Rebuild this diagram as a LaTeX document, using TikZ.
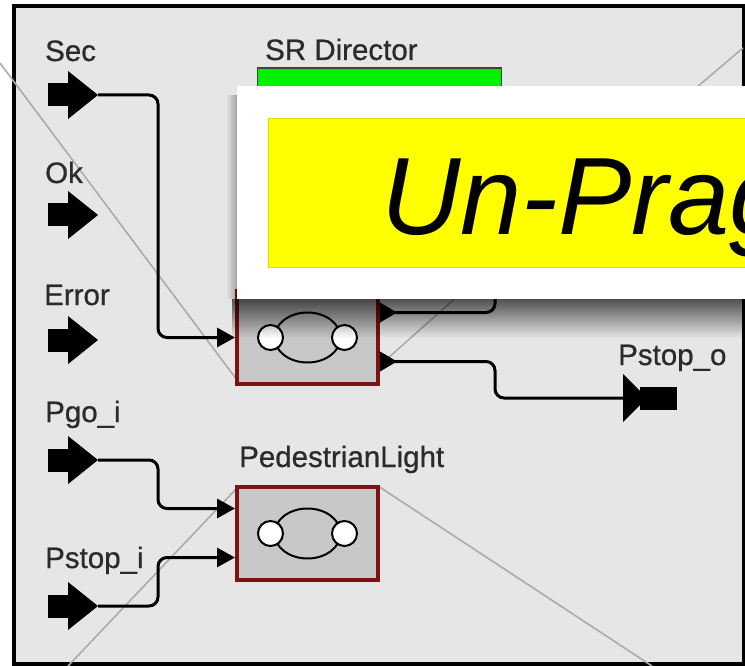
\documentclass[tikz,border=0pt]{standalone}
\usepackage{fontspec}
\setmainfont{Liberation Sans}
\usetikzlibrary{arrows.meta,fadings}

\definecolor{canvas}{HTML}{E6E6E6}
\definecolor{actorred}{HTML}{7E1212}
\definecolor{actorfill}{HTML}{C8C8C8}
\definecolor{labelgray}{HTML}{2B2B2B}
\definecolor{directorgreen}{HTML}{00F000}
\definecolor{xgray}{HTML}{ABABAB}
\definecolor{banneryellow}{HTML}{FFFF00}
\definecolor{bannerrim}{HTML}{E8D800}

\tikzset{
  wire/.style={line width=3pt, rounded corners=9pt},
  arrowed/.style={-{Triangle[length=18pt,width=19pt]}},
  actor/.style={draw=actorred, fill=actorfill, line width=4pt,
    minimum width=141pt, minimum height=93pt, inner sep=0pt},
  director/.style={draw=black!75, fill=directorgreen, line width=1.5pt,
    minimum width=244pt, minimum height=60pt, inner sep=0pt},
  portlabel/.style={anchor=base west, inner sep=0pt, text=labelgray,
    font=\fontsize{29.5}{30}\selectfont\addfontfeature{FakeBold=0.7}},
  xline/.style={xgray, line width=1.6pt},
  % input port: square tail followed by a triangular head ending at the origin
  inport/.pic={
    \fill[black] (-50,-11.5) rectangle (-28,11.5);
    \fill[black] (-30,-24) -- (0,0) -- (-30,24) -- cycle;
  },
  % output port: triangular head with its base at the origin, then a square tail
  outport/.pic={
    \fill[black] (0,-24) -- (24,0) -- (0,24) -- cycle;
    \fill[black] (17,-11.5) rectangle (54,11.5);
  },
  % the composite-actor glyph drawn inside each actor box
  actoricon/.pic={
    \draw[line width=2pt, fill=actorfill] (0,0) ellipse [x radius=33pt, y radius=25pt];
    \draw[line width=2pt, fill=white] (-37pt,0) circle [radius=12.5pt];
    \draw[line width=2pt, fill=white] (37pt,0) circle [radius=12.5pt];
  },
  outtip/.pic={
    \fill[black] (0,-10) -- (17,0) -- (0,10) -- cycle;
  },
}

\begin{document}
\begin{tikzpicture}[x=1pt,y=-1pt]
  \useasboundingbox (0,0) rectangle (745,666);
  \clip (0,0) rectangle (745,666);
  \fill[white] (0,0) rectangle (745,666);

  % model canvas
  \draw[line width=4pt, fill=canvas] (13.5,6.5) rectangle (743.5,664);

  % faint cross lines behind the model
  \draw[xline] (0,63) -- (237,380);
  \draw[xline] (743,48) -- (690,93);
  \draw[xline] (460,294) -- (378,367);
  \draw[xline] (237,488) -- (68,666);
  \draw[xline] (378,486) -- (652,666);

  % director
  \node[director] (dir) at (379.5,98) {};
  \node[portlabel] (dirlabel) at (265,60) {SR Director};

  % external input ports
  \coordinate (sec)   at (98,95);
  \coordinate (ok)    at (98,215);
  \coordinate (err)   at (98,340);
  \coordinate (pgo)   at (98,460);
  \coordinate (pstopi) at (98,606);
  \foreach \p in {sec,ok,err,pgo,pstopi} { \pic at (\p) {inport}; }

  \node[portlabel] (seclabel)   at (45,61)  {Sec};
  \node[portlabel] (oklabel)    at (45,183) {Ok};
  \node[portlabel] (errlabel)   at (44,305) {Error};
  \node[portlabel] (pgolabel)   at (45,422) {Pgo\_i};
  \node[portlabel] (pstopilabel) at (45,568) {Pstop\_i};

  % external output port
  \coordinate (pstopo) at (623,398);
  \pic at (pstopo) {outport};
  \node[portlabel] (pstopolabel) at (618,365) {Pstop\_o};

  % actors
  \node[actor] (ctl) at (307.5,337.5) {};
  \pic at (ctl.center) {actoricon};
  \node[actor] (ped) at (307.5,533.5) {};
  \pic at (ped.center) {actoricon};
  \node[portlabel] (pedlabel) at (239,467) {PedestrianLight};

  % actor ports
  \coordinate (ctlout1) at ([yshift=25pt]ctl.east);
  \coordinate (ctlout2) at ([yshift=-24pt]ctl.east);
  \pic at (ctlout1) {outtip};
  \pic at (ctlout2) {outtip};
  \coordinate (ctlout1w) at ([xshift=15pt]ctlout1);
  \coordinate (ctlout2w) at ([xshift=15pt]ctlout2);
  \coordinate (pedin1) at ([yshift=25pt]ped.west);
  \coordinate (pedin2) at ([yshift=-24pt]ped.west);

  % relations
  \draw[wire, arrowed] (sec) -- ++(60,0) |- (ctl.west);
  \draw[wire, arrowed] (pgo) -- ++(60,0) |- (pedin1);
  \draw[wire, arrowed] (pstopi) -- ++(60,0) |- (pedin2);
  \draw[wire] (ctlout1w) -- ++(100,0) -- ++(0,-60);
  \draw[wire] (ctlout2w) -- ++(100,0) |- (pstopo);

  % floating banner with its drop shadow
  \fill[black, opacity=0.65, path fading=south] (232,299) rectangle (745,338);
  \fill[black, opacity=0.3, path fading=west] (226,95) rectangle (237,299);
  \fill[white] (237,86) rectangle (750,299);
  \filldraw[fill=banneryellow, draw=bannerrim, line width=1pt] (268,119) rectangle (760,267);
  \node[anchor=base west, inner sep=0pt, font=\fontsize{110}{110}\selectfont\itshape]
    (banner) at (381,235) {Un-Prag};
\end{tikzpicture}
\end{document}
